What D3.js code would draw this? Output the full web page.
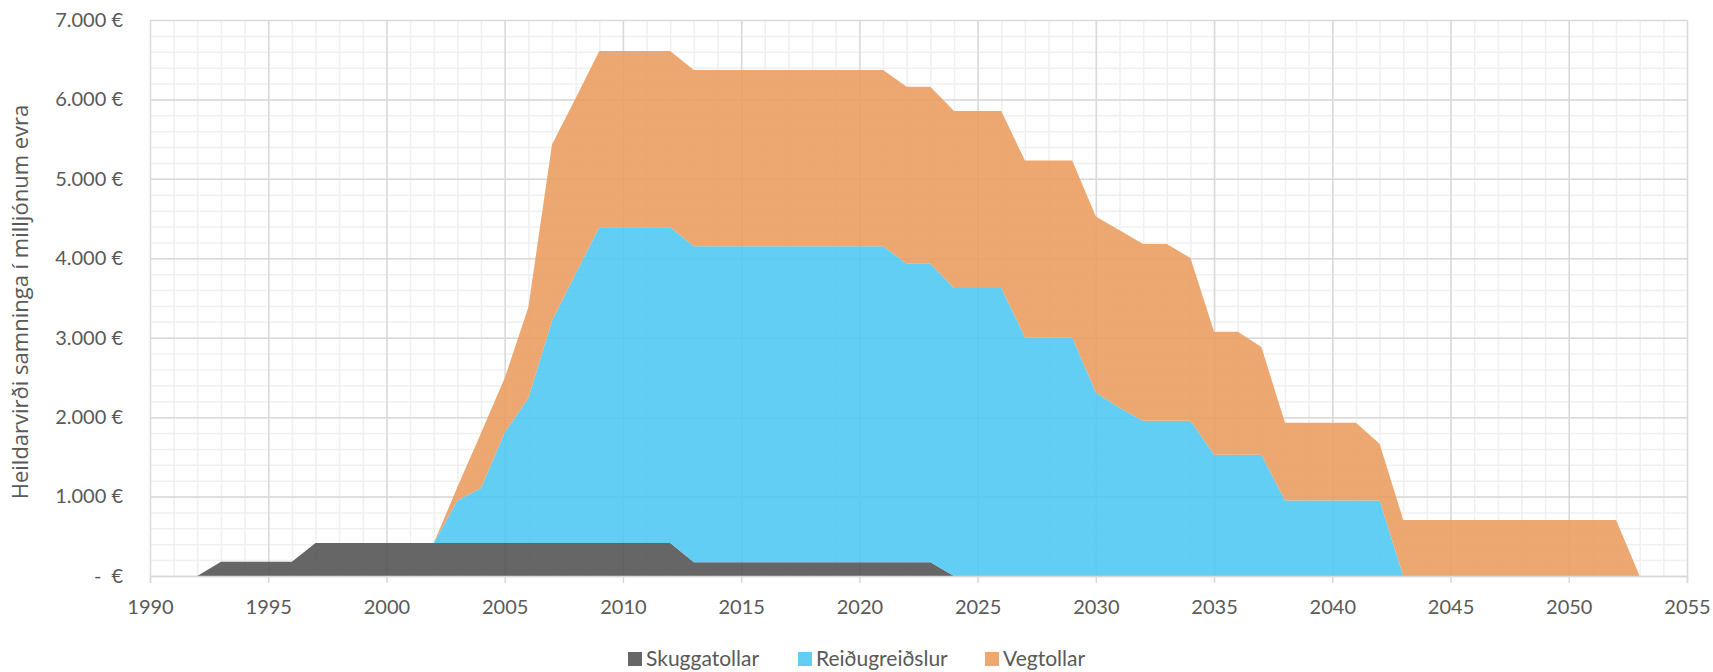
<!DOCTYPE html>
<html>
<head>
<meta charset="utf-8">
<script src="https://cdn.jsdelivr.net/npm/d3@7"></script>
<style>
  body { margin: 0; background: #fff; }
  svg { display: block; }
  .tick-label { font-family: Lato, "Liberation Sans", sans-serif; font-size: 20px; fill: #595959; }
  .legend-label { font-family: Lato, "Liberation Sans", sans-serif; font-size: 21px; fill: #595959; }
  .axis-title { font-family: "Open Sans", sans-serif; font-size: 22px; fill: #595959; }
</style>
</head>
<body>
<script>
// categories
const years = [
  1992, 1993, 1994, 1995, 1996, 1997, 1998, 1999, 2000, 2001, 2002, 2003, 2004, 2005, 2006, 2007,
  2008, 2009, 2010, 2011, 2012, 2013, 2014, 2015, 2016, 2017, 2018, 2019, 2020, 2021, 2022, 2023,
  2024, 2025, 2026, 2027, 2028, 2029, 2030, 2031, 2032, 2033, 2034, 2035, 2036, 2037, 2038, 2039,
  2040, 2041, 2042, 2043, 2044, 2045, 2046, 2047, 2048, 2049, 2050, 2051, 2052, 2053
];

// series values, millions of euros
const skuggatollar = [
  0, 180, 180, 180, 180, 415, 415, 415, 415, 415, 415, 415, 415, 415, 415, 415,
  415, 415, 415, 415, 415, 172, 172, 172, 172, 172, 172, 172, 172, 172, 172, 172,
  0, 0, 0, 0, 0, 0, 0, 0, 0, 0, 0, 0, 0, 0, 0, 0,
  0, 0, 0, 0, 0, 0, 0, 0, 0, 0, 0, 0, 0, 0
];
const reidugreidslur = [
  0, 0, 0, 0, 0, 0, 0, 0, 0, 0, 0, 536, 692, 1391, 1825, 2795,
  3390, 3975, 3975, 3975, 3975, 3980, 3980, 3980, 3980, 3980, 3980, 3980, 3980, 3980, 3760, 3760,
  3626, 3626, 3626, 3004, 3004, 3004, 2309, 2117, 1954, 1954, 1954, 1525, 1525, 1525, 950, 950,
  950, 950, 950, 0, 0, 0, 0, 0, 0, 0, 0, 0, 0, 0
];
const vegtollar = [
  0, 0, 0, 0, 0, 0, 0, 0, 0, 0, 0, 169, 693, 686, 1144, 2222,
  2210, 2220, 2220, 2220, 2220, 2217, 2217, 2217, 2217, 2217, 2217, 2217, 2217, 2217, 2227, 2227,
  2227, 2227, 2227, 2227, 2227, 2227, 2218, 2236, 2227, 2227, 2050, 1551, 1551, 1357, 979, 979,
  979, 979, 714, 706, 706, 706, 706, 706, 706, 706, 706, 706, 706, 0
];

const seriesNames = ['Skuggatollar', 'Reiðugreiðslur', 'Vegtollar'];
const seriesColors = ['#515151', '#4dc7f2', '#ea9b5c'];
const yTicks = [0, 1000, 2000, 3000, 4000, 5000, 6000, 7000];
const xTicks = [1990, 1995, 2000, 2005, 2010, 2015, 2020, 2025, 2030, 2035, 2040, 2045, 2050, 2055];

const width = 1713;
const height = 672;
const margin = { top: 20, right: 26, bottom: 96, left: 150 };
const innerW = width - margin.left - margin.right;
const innerH = height - margin.top - margin.bottom;

const data = years.map((y, i) => ({
  year: y,
  Skuggatollar: skuggatollar[i],
  'Reiðugreiðslur': reidugreidslur[i],
  Vegtollar: vegtollar[i]
}));

const stacked = d3.stack().keys(seriesNames)(data);

const xScale = d3.scaleLinear().domain([1990, 2055]).range([0, innerW]);
const yScale = d3.scaleLinear().domain([0, 7000]).range([innerH, 0]);

const svg = d3
  .select('body')
  .append('svg')
  .attr('width', width)
  .attr('height', height);

const g = svg.append('g').attr('transform', `translate(${margin.left},${margin.top})`);

// minor gridlines (200 / 1 year)
g.append('g')
  .attr('class', 'grid-minor')
  .call(d3.axisLeft(yScale).tickValues(d3.range(200, 7000, 200)).tickSize(-innerW).tickFormat(''))
  .call((s) => s.select('.domain').remove())
  .call((s) => s.selectAll('line').attr('stroke', '#f0f0f0').attr('stroke-width', 1.5));

g.append('g')
  .attr('class', 'grid-minor')
  .attr('transform', `translate(0,${innerH})`)
  .call(d3.axisBottom(xScale).tickValues(d3.range(1991, 2055, 1)).tickSize(-innerH).tickFormat(''))
  .call((s) => s.select('.domain').remove())
  .call((s) => s.selectAll('line').attr('stroke', '#f0f0f0').attr('stroke-width', 1.5));

// major gridlines
g.append('g')
  .attr('class', 'grid-major')
  .call(d3.axisLeft(yScale).tickValues(yTicks).tickSize(-innerW).tickFormat(''))
  .call((s) => s.select('.domain').remove())
  .call((s) => s.selectAll('line').attr('stroke', '#d9d9d9').attr('stroke-width', 1.5));

g.append('g')
  .attr('class', 'grid-major')
  .attr('transform', `translate(0,${innerH})`)
  .call(d3.axisBottom(xScale).tickValues(xTicks).tickSize(-innerH).tickFormat(''))
  .call((s) => s.select('.domain').remove())
  .call((s) => s.selectAll('line').attr('stroke', '#d9d9d9').attr('stroke-width', 1.5));

// stacked areas
const area = d3
  .area()
  .x((d) => xScale(d.data.year))
  .y0((d) => yScale(d[0]))
  .y1((d) => yScale(d[1]));

g.selectAll('.layer')
  .data(stacked)
  .enter()
  .append('path')
  .attr('class', 'layer')
  .attr('fill', (d, i) => seriesColors[i])
  .attr('fill-opacity', 0.88)
  .attr('d', area);

// x axis
const xAxis = g
  .append('g')
  .attr('transform', `translate(0,${innerH})`)
  .call(d3.axisBottom(xScale).tickValues(xTicks).tickSize(7).tickPadding(16).tickFormat(d3.format('d')));
xAxis.select('.domain').attr('stroke', '#d9d9d9').attr('stroke-width', 1.5);
xAxis.selectAll('.tick line').attr('stroke', '#d9d9d9').attr('stroke-width', 1.5);
xAxis.selectAll('.tick text').attr('class', 'tick-label').attr('dy', '0.75em');

// y axis
const fmtEuro = (d) => (d === 0 ? '-\u2002€' : d3.format(',')(d).replace(/,/g, '.') + ' €');
const yAxis = g
  .append('g')
  .call(d3.axisLeft(yScale).tickValues(yTicks).tickSize(0).tickPadding(27).tickFormat(fmtEuro));
yAxis.select('.domain').remove();
yAxis.selectAll('.tick text').attr('class', 'tick-label');

// y axis title
svg.append('text')
  .attr('class', 'axis-title')
  .attr('transform', `translate(28,${margin.top + innerH / 2 + 4}) rotate(-90)`)
  .attr('text-anchor', 'middle')
  .text('Heildarvirði samninga í milljónum evra');

// legend
const legendX = [628, 798, 985];
const legend = svg.append('g').attr('transform', 'translate(0,658)');
seriesNames.forEach((name, i) => {
  legend.append('rect')
    .attr('x', legendX[i])
    .attr('y', -6)
    .attr('width', 14)
    .attr('height', 14)
    .attr('fill', seriesColors[i])
    .attr('fill-opacity', 0.88);
  legend.append('text')
    .attr('class', 'legend-label')
    .attr('x', legendX[i] + 18)
    .attr('y', 0)
    .attr('dy', '0.4em')
    .text(name);
});
</script>
</body>
</html>
